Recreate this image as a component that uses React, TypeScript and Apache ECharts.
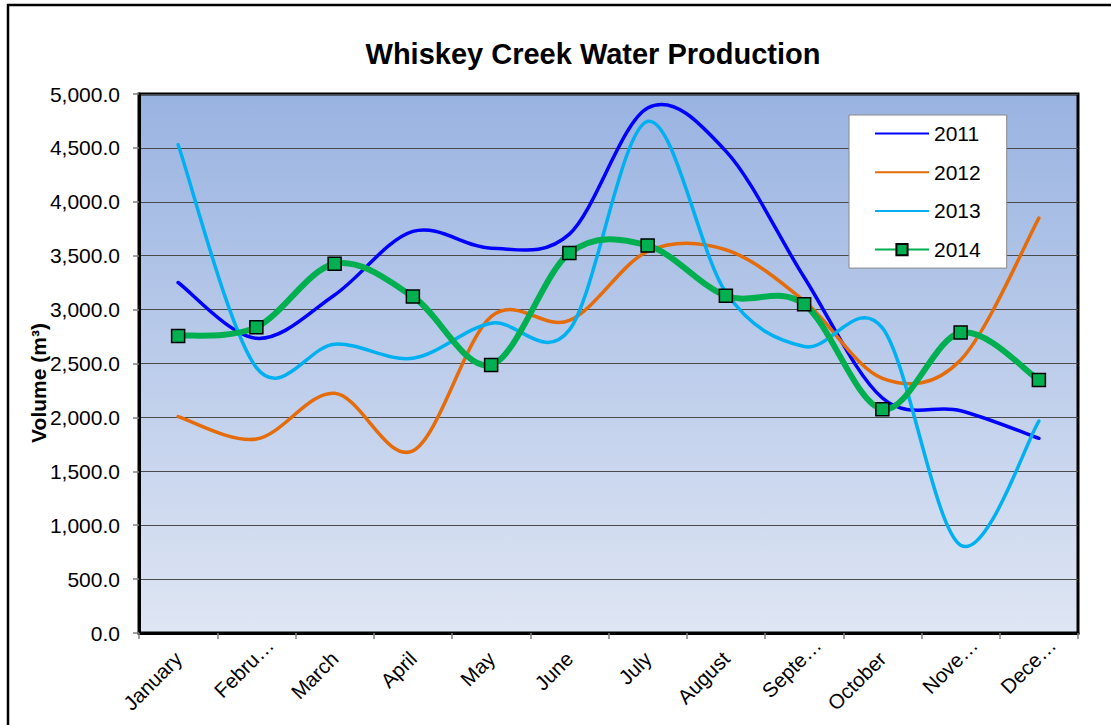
import React, { useEffect, useRef } from "react";
import * as echarts from "echarts";

const months = ["January", "Febru…", "March", "April", "May", "June", "July", "August", "Septe…", "October", "Nove…", "Dece…"];
const seriesNames = ["2011", "2012", "2013", "2014"];
const v2011 = [3251, 2734, 3136, 3725, 3570, 3700, 4870, 4470, 3300, 2180, 2062, 1806];
const v2012 = [2007, 1799, 2224, 1690, 2935, 2900, 3540, 3555, 3080, 2363, 2533, 3849];
const v2013 = [4529, 2462, 2679, 2549, 2874, 2812, 4746, 3160, 2657, 2830, 815, 1966];
const v2014 = [2756, 2837, 3425, 3121, 2487, 3524, 3595, 3128, 3050, 2075, 2787, 2347];
const colors = ["#0000FF", "#E46C0A", "#00B0F0", "#00B050"];
const titleText = "Whiskey Creek Water Production";
const yAxisTitle = "Volume (m³)";

const FONT = "'Liberation Sans', Arial, sans-serif";

export default function App() {
  const ref = useRef<HTMLDivElement>(null);
  useEffect(() => {
    document.body.style.margin = "0";
    const chart = echarts.init(ref.current!, null, { renderer: "svg" });
    const values = [v2011, v2012, v2013, v2014];

    // Smoothed curves (Catmull-Rom, as in spreadsheet charts) drawn through axis coordinates
    const curveSeries = values.map((vals, i) => ({
      type: "custom",
      name: "curve-" + seriesNames[i],
      data: [[0, vals[0]]],
      silent: true,
      z: 2 + i,
      renderItem: (_params: any, api: any) => {
        const pts = vals.map((v, k) => api.coord([k, v]));
        let d = `M${pts[0][0]},${pts[0][1]}`;
        for (let k = 0; k < pts.length - 1; k++) {
          const p0 = pts[k - 1] || pts[k];
          const p1 = pts[k];
          const p2 = pts[k + 1];
          const p3 = pts[k + 2] || pts[k + 1];
          const c1x = p1[0] + (p2[0] - p0[0]) / 6;
          const c1y = p1[1] + (p2[1] - p0[1]) / 6;
          const c2x = p2[0] - (p3[0] - p1[0]) / 6;
          const c2y = p2[1] - (p3[1] - p1[1]) / 6;
          d += ` C${c1x},${c1y} ${c2x},${c2y} ${p2[0]},${p2[1]}`;
        }
        return {
          type: "path",
          shape: { pathData: d },
          style: {
            fill: "none",
            stroke: colors[i],
            lineWidth: i === 3 ? 6 : 3.5,
            lineCap: "round",
            lineJoin: "round",
          },
        };
      },
    }));

    const markerSeries = values.map((vals, i) => {
      const isMarked = i === 3;
      return {
        name: seriesNames[i],
        type: "line",
        data: vals,
        symbol: isMarked ? "rect" : "none",
        showSymbol: isMarked,
        symbolSize: 13,
        lineStyle: { color: colors[i], width: isMarked ? 6 : 3.5, opacity: 0 },
        itemStyle: isMarked
          ? { color: colors[i], borderColor: "#000", borderWidth: 1.5 }
          : { color: colors[i] },
        z: 10 + i,
      };
    });

    const legendData = seriesNames.map((n, i) => ({
      name: n,
      lineStyle: { opacity: 1 },
      itemStyle: i === 3 ? { opacity: 1 } : { opacity: 0 },
    }));

    // truncated labels sit a little further along their baseline, as in the original
    const categoryData = months.map((m) =>
      m.endsWith("…") ? { value: m, textStyle: { padding: [-2, -19, 0, 0] } } : m
    );

    chart.setOption({
      animation: false,
      textStyle: { fontFamily: FONT },
      title: {
        text: titleText,
        left: 593,
        top: 39,
        textAlign: "center",
        padding: 0,
        textStyle: { fontSize: 29, fontWeight: "bold", color: "#000", fontFamily: FONT },
      },
      legend: {
        orient: "vertical",
        left: 849,
        top: 115,
        padding: [8, 26, 8, 25],
        itemWidth: 54,
        itemHeight: 14,
        itemGap: 17.7,
        backgroundColor: "#fff",
        borderColor: "#888",
        borderWidth: 1,
        borderRadius: 0,
        textStyle: { fontSize: 21, lineHeight: 20, color: "#000", fontFamily: FONT },
        data: legendData,
      },
      grid: {
        left: 139,
        top: 94,
        width: 939,
        height: 539,
        show: true,
        borderColor: "#000",
        borderWidth: 3,
        backgroundColor: new echarts.graphic.LinearGradient(0, 0, 0, 1, [
          { offset: 0, color: "#99B3E1" },
          { offset: 1, color: "#DFE6F4" },
        ]),
      },
      xAxis: {
        type: "category",
        data: categoryData,
        boundaryGap: true,
        axisLine: { lineStyle: { color: "#000", width: 3 } },
        axisTick: { show: true, length: 6, lineStyle: { color: "#808080", width: 1.5 } },
        axisLabel: { rotate: 45, interval: 0, fontSize: 20.5, color: "#000", margin: 22, fontFamily: FONT },
      },
      yAxis: {
        type: "value",
        min: 0,
        max: 5000,
        interval: 500,
        axisLine: { show: true, lineStyle: { color: "#000", width: 3 } },
        axisTick: { show: true, length: 6, lineStyle: { color: "#808080", width: 1.5 } },
        axisLabel: {
          fontSize: 21,
          color: "#000",
          margin: 19,
          fontFamily: FONT,
          formatter: (v: number) =>
            v.toLocaleString("en-US", { minimumFractionDigits: 1, maximumFractionDigits: 1 }),
        },
        splitLine: { show: true, lineStyle: { color: "#4A4A4A", width: 1.2 } },
      },
      graphic: [
        {
          type: "rect",
          shape: { x: 8, y: 5, width: 1300, height: 900 },
          style: { fill: "none", stroke: "#000", lineWidth: 2.5 },
          silent: true,
          z: -10,
        },
        {
          type: "text",
          x: 38,
          y: 383,
          rotation: Math.PI / 2,
          style: {
            text: yAxisTitle,
            font: `bold 21px ${FONT}`,
            fill: "#000",
            textAlign: "center",
            textVerticalAlign: "middle",
          },
        },
      ],
      series: [...curveSeries, ...markerSeries],
    });
    return () => chart.dispose();
  }, []);
  return <div ref={ref} style={{ width: 1111, height: 725 }} />;
}
